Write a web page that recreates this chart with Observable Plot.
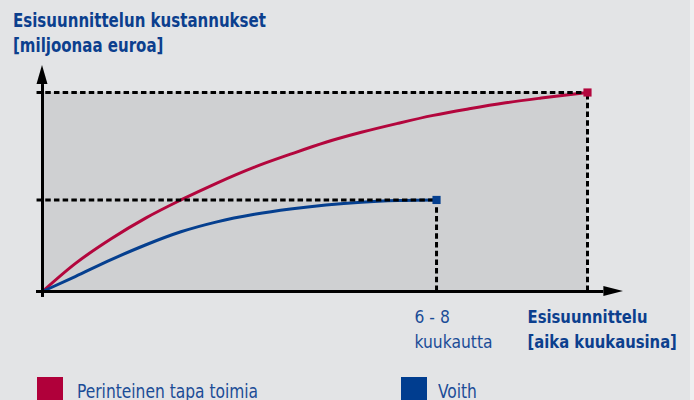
<!DOCTYPE html>
<html>
<head>
<meta charset="utf-8">
<script src="https://cdn.jsdelivr.net/npm/d3@7"></script>
<script src="https://cdn.jsdelivr.net/npm/@observablehq/plot@0.6"></script>
<style>
  html, body { margin: 0; padding: 0; background: #e3e4e6; }
  #page { position: relative; width: 694px; height: 400px; overflow: hidden; background: #e3e4e6;
          font-family: "DejaVu Sans Condensed", "Liberation Sans Narrow", sans-serif; }
  .t { position: absolute; white-space: nowrap; font-size: 20px; line-height: 20px; transform-origin: 0 0; }
  .title { font-weight: bold; color: #0c3f8e; transform: scaleX(0.835); }
  .leg { color: #1b4c97; transform: scaleX(0.86); }
  .sw { position: absolute; width: 26px; height: 26px; }
  #plot { position: absolute; left: 0; top: 60px; }
  #edge { position: absolute; left: 690px; top: 0; width: 4px; height: 400px; background: #eeeff0; }
</style>
</head>
<body>
<div id="page">
  <div class="t title" style="left:13px; top:10px;">Esisuunnittelun kustannukset</div>
  <div class="t title" style="left:13px; top:35px;">[miljoonaa euroa]</div>
  <div id="plot"></div>
  <div class="sw" style="left:37px; top:377px; background:#b0003a;"></div>
  <div class="t leg" style="left:77px; top:381px;">Perinteinen tapa toimia</div>
  <div class="sw" style="left:401px; top:377px; background:#003d8f;"></div>
  <div class="t leg" style="left:438px; top:381px;">Voith</div>
  <div id="edge"></div>
</div>
<script>
// Relative time (% of traditional pre-planning duration) and cost (% of traditional total)
const traditionalTime = [0, 6, 12.6, 19, 25.4, 32, 38.9, 45.5, 52, 58.5, 65.2, 71.7, 78.3, 85, 91.5, 100];
const traditionalCost = [0, 14, 26.5, 37, 46, 54.5, 62.5, 69, 75, 80, 84.5, 88.5, 91.8, 94.8, 97.2, 100];
const voithTime = [0, 6, 12.6, 19, 25.4, 32, 38.9, 45.5, 52, 58.5, 65.2, 72.3];
const voithCost = [0, 7.5, 16, 23.5, 30, 35, 38.8, 41.5, 43.5, 44.9, 45.7, 46];
const seriesNames = ["Perinteinen tapa toimia", "Voith"];
const seriesColors = ["#b3063d", "#053f8f"];
const voithTimeLabel = ["6 - 8", "kuukautta"];
const xAxisTitle = ["Esisuunnittelu", "[aika kuukausina]"];
// axis extents (data units)
const xAxisExtent = [-1.1, 103, 106.6];   // start, shaft end, arrow tip
const yAxisExtent = [-3, 104, 113.6];
const guideStart = -1;

const trad = traditionalTime.map((t, i) => ({series: seriesNames[0], x: t, y: traditionalCost[i]}));
const voith = voithTime.map((t, i) => ({series: seriesNames[1], x: t, y: voithCost[i]}));
const ends = [trad[trad.length - 1], voith[voith.length - 1]];
const colorOf = d => seriesColors[seriesNames.indexOf(d.series)];

const arrowHeads = (index, scales) => {
  const {x, y} = scales;
  const g = d3.create("svg:g").attr("fill", "black");
  const x0 = x(0), y0 = y(0);
  const yTip = y(yAxisExtent[2]), yBase = y(yAxisExtent[1]);
  const xTip = x(xAxisExtent[2]), xBase = x(xAxisExtent[1]);
  g.append("path").attr("d", `M${x0},${yTip}L${x0 - 5.5},${yBase}L${x0 + 5.5},${yBase}Z`);
  g.append("path").attr("d", `M${xTip},${y0}L${xBase},${y0 - 5}L${xBase},${y0 + 5}Z`);
  return g.node();
};

const textFont = {fontFamily: "DejaVu Sans Condensed, Liberation Sans Narrow, sans-serif", fontSize: 18};

const chart = Plot.plot({
  width: 694,
  height: 310,
  marginLeft: 42,
  marginRight: 107,
  marginTop: 32,
  marginBottom: 79,
  x: {domain: [0, 100], axis: null},
  y: {domain: [0, 100], axis: null},
  style: {background: "transparent", overflow: "visible"},
  marks: [
    Plot.rect([ends[0]], {x1: 0, x2: "x", y1: 0, y2: "y", fill: "#cfd0d2"}),
    Plot.line(trad, {x: "x", y: "y", stroke: seriesColors[0], strokeWidth: 3, curve: "monotone-x"}),
    Plot.line(voith, {x: "x", y: "y", stroke: seriesColors[1], strokeWidth: 3, curve: "monotone-x"}),
    Plot.ruleY(ends, {y: "y", x1: guideStart, x2: "x", stroke: "black", strokeWidth: 3, strokeDasharray: "5.5,3.2"}),
    Plot.ruleX(ends, {x: "x", y1: 0, y2: "y", stroke: "black", strokeWidth: 3, strokeDasharray: "5.5,3.2"}),
    Plot.ruleY([0], {x1: xAxisExtent[0], x2: xAxisExtent[1], stroke: "black", strokeWidth: 3}),
    Plot.ruleX([0], {y1: yAxisExtent[0], y2: yAxisExtent[1], stroke: "black", strokeWidth: 3}),
    arrowHeads,
    Plot.dot(ends, {x: "x", y: "y", symbol: "square", r: 4.6, fill: colorOf, stroke: null}),
    Plot.text([ends[1]], {x: "x", y: 0, text: () => voithTimeLabel[0], textAnchor: "start", lineAnchor: "bottom", dx: -22, dy: 31.7, fill: "#1b4c97", className: "lbl-reg", ...textFont}),
    Plot.text([ends[1]], {x: "x", y: 0, text: () => voithTimeLabel[1], textAnchor: "start", lineAnchor: "bottom", dx: -22, dy: 56, fill: "#1b4c97", className: "lbl-reg", ...textFont}),
    Plot.text([ends[0]], {x: "x", y: 0, text: () => xAxisTitle[0], textAnchor: "start", lineAnchor: "bottom", dx: -60, dy: 31.7, fill: "#0c3f8e", fontWeight: "bold", className: "lbl-bold", ...textFont}),
    Plot.text([ends[0]], {x: "x", y: 0, text: () => xAxisTitle[1], textAnchor: "start", lineAnchor: "bottom", dx: -60, dy: 56, fill: "#0c3f8e", fontWeight: "bold", className: "lbl-bold", ...textFont})
  ]
});
document.getElementById("plot").appendChild(chart);
// condense SVG labels to match the narrow typeface of the original
const squeeze = (sel, k) => chart.querySelectorAll(sel + " text").forEach(t => {
  const w = t.getComputedTextLength();
  t.setAttribute("textLength", (w * k).toFixed(1));
  t.setAttribute("lengthAdjust", "spacingAndGlyphs");
});
squeeze(".lbl-reg", 0.96);
squeeze(".lbl-bold", 0.915);
</script>
</body>
</html>
